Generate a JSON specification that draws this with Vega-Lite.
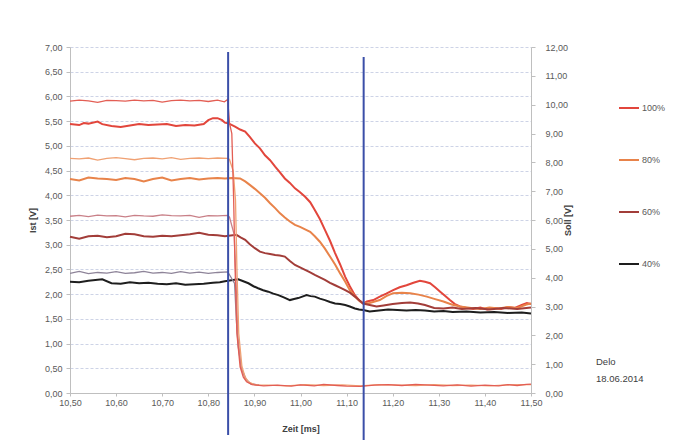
{
  "$schema": "https://vega.github.io/schema/vega-lite/v6.json",
  "width": 461,
  "height": 346,
  "autosize": {"type": "none"},
  "padding": {"left": 70, "top": 47, "right": 155, "bottom": 51},
  "background": "white",
  "config": {
    "locale": {"number": {"decimal": ",", "thousands": ".", "grouping": [3], "currency": ["", " €"]}},
    "view": {"stroke": null},
    "font": "Liberation Sans",
    "axis": {
      "labelFontSize": 9, "labelColor": "#595959", "labelFont": "Liberation Sans",
      "titleFontSize": 9, "titleColor": "#404040", "titleFontWeight": "bold", "titleFont": "Liberation Sans",
      "domainColor": "#bfbfbf", "tickColor": "#bfbfbf", "tickSize": 4
    },
    "legend": {"labelFontSize": 9, "labelColor": "#595959", "labelFont": "Liberation Sans"}
  },
  "datasets": {
    "ist": [
      {"t":10.50,"v":5.44,"s":"100%"},{"t":10.52,"v":5.42,"s":"100%"},{"t":10.53,"v":5.46,"s":"100%"},{"t":10.54,"v":5.45,"s":"100%"},{"t":10.56,"v":5.49,"s":"100%"},{"t":10.57,"v":5.44,"s":"100%"},{"t":10.59,"v":5.40,"s":"100%"},{"t":10.61,"v":5.38,"s":"100%"},{"t":10.63,"v":5.41,"s":"100%"},{"t":10.65,"v":5.44,"s":"100%"},{"t":10.67,"v":5.42,"s":"100%"},{"t":10.69,"v":5.43,"s":"100%"},{"t":10.71,"v":5.44,"s":"100%"},{"t":10.73,"v":5.40,"s":"100%"},{"t":10.75,"v":5.42,"s":"100%"},{"t":10.77,"v":5.41,"s":"100%"},{"t":10.79,"v":5.44,"s":"100%"},{"t":10.80,"v":5.52,"s":"100%"},{"t":10.81,"v":5.56,"s":"100%"},{"t":10.82,"v":5.56,"s":"100%"},{"t":10.83,"v":5.52,"s":"100%"},{"t":10.836,"v":5.47,"s":"100%"},{"t":10.845,"v":5.45,"s":"100%"},{"t":10.858,"v":5.39,"s":"100%"},{"t":10.869,"v":5.33,"s":"100%"},{"t":10.880,"v":5.29,"s":"100%"},{"t":10.890,"v":5.18,"s":"100%"},{"t":10.901,"v":5.05,"s":"100%"},{"t":10.912,"v":4.95,"s":"100%"},{"t":10.923,"v":4.81,"s":"100%"},{"t":10.934,"v":4.71,"s":"100%"},{"t":10.945,"v":4.58,"s":"100%"},{"t":10.955,"v":4.47,"s":"100%"},{"t":10.966,"v":4.34,"s":"100%"},{"t":10.977,"v":4.25,"s":"100%"},{"t":10.988,"v":4.14,"s":"100%"},{"t":10.999,"v":4.06,"s":"100%"},{"t":11.010,"v":3.97,"s":"100%"},{"t":11.021,"v":3.86,"s":"100%"},{"t":11.031,"v":3.70,"s":"100%"},{"t":11.042,"v":3.52,"s":"100%"},{"t":11.053,"v":3.30,"s":"100%"},{"t":11.064,"v":3.08,"s":"100%"},{"t":11.075,"v":2.83,"s":"100%"},{"t":11.086,"v":2.60,"s":"100%"},{"t":11.097,"v":2.35,"s":"100%"},{"t":11.107,"v":2.16,"s":"100%"},{"t":11.118,"v":1.98,"s":"100%"},{"t":11.127,"v":1.88,"s":"100%"},{"t":11.136,"v":1.81,"s":"100%"},{"t":11.144,"v":1.85,"s":"100%"},{"t":11.158,"v":1.88,"s":"100%"},{"t":11.172,"v":1.95,"s":"100%"},{"t":11.186,"v":2.01,"s":"100%"},{"t":11.201,"v":2.08,"s":"100%"},{"t":11.215,"v":2.14,"s":"100%"},{"t":11.230,"v":2.18,"s":"100%"},{"t":11.245,"v":2.23,"s":"100%"},{"t":11.259,"v":2.27,"s":"100%"},{"t":11.270,"v":2.25,"s":"100%"},{"t":11.281,"v":2.22,"s":"100%"},{"t":11.292,"v":2.14,"s":"100%"},{"t":11.303,"v":2.05,"s":"100%"},{"t":11.314,"v":1.96,"s":"100%"},{"t":11.324,"v":1.88,"s":"100%"},{"t":11.335,"v":1.80,"s":"100%"},{"t":11.346,"v":1.75,"s":"100%"},{"t":11.36,"v":1.72,"s":"100%"},{"t":11.375,"v":1.70,"s":"100%"},{"t":11.39,"v":1.73,"s":"100%"},{"t":11.405,"v":1.69,"s":"100%"},{"t":11.42,"v":1.72,"s":"100%"},{"t":11.435,"v":1.70,"s":"100%"},{"t":11.45,"v":1.74,"s":"100%"},{"t":11.465,"v":1.72,"s":"100%"},{"t":11.48,"v":1.78,"s":"100%"},{"t":11.491,"v":1.82,"s":"100%"},{"t":11.50,"v":1.80,"s":"100%"},

      {"t":10.50,"v":4.33,"s":"80%"},{"t":10.52,"v":4.30,"s":"80%"},{"t":10.54,"v":4.36,"s":"80%"},{"t":10.56,"v":4.34,"s":"80%"},{"t":10.58,"v":4.33,"s":"80%"},{"t":10.60,"v":4.31,"s":"80%"},{"t":10.62,"v":4.35,"s":"80%"},{"t":10.64,"v":4.33,"s":"80%"},{"t":10.66,"v":4.28,"s":"80%"},{"t":10.68,"v":4.33,"s":"80%"},{"t":10.70,"v":4.36,"s":"80%"},{"t":10.72,"v":4.30,"s":"80%"},{"t":10.74,"v":4.33,"s":"80%"},{"t":10.76,"v":4.35,"s":"80%"},{"t":10.78,"v":4.32,"s":"80%"},{"t":10.80,"v":4.34,"s":"80%"},{"t":10.82,"v":4.35,"s":"80%"},{"t":10.836,"v":4.34,"s":"80%"},{"t":10.850,"v":4.35,"s":"80%"},{"t":10.869,"v":4.34,"s":"80%"},{"t":10.880,"v":4.28,"s":"80%"},{"t":10.890,"v":4.21,"s":"80%"},{"t":10.901,"v":4.13,"s":"80%"},{"t":10.912,"v":4.04,"s":"80%"},{"t":10.923,"v":3.95,"s":"80%"},{"t":10.934,"v":3.84,"s":"80%"},{"t":10.945,"v":3.74,"s":"80%"},{"t":10.955,"v":3.64,"s":"80%"},{"t":10.966,"v":3.55,"s":"80%"},{"t":10.977,"v":3.47,"s":"80%"},{"t":10.988,"v":3.40,"s":"80%"},{"t":10.999,"v":3.36,"s":"80%"},{"t":11.010,"v":3.31,"s":"80%"},{"t":11.021,"v":3.26,"s":"80%"},{"t":11.031,"v":3.17,"s":"80%"},{"t":11.042,"v":3.06,"s":"80%"},{"t":11.053,"v":2.92,"s":"80%"},{"t":11.064,"v":2.76,"s":"80%"},{"t":11.075,"v":2.60,"s":"80%"},{"t":11.086,"v":2.42,"s":"80%"},{"t":11.097,"v":2.25,"s":"80%"},{"t":11.107,"v":2.08,"s":"80%"},{"t":11.118,"v":1.95,"s":"80%"},{"t":11.129,"v":1.85,"s":"80%"},{"t":11.136,"v":1.81,"s":"80%"},{"t":11.150,"v":1.82,"s":"80%"},{"t":11.172,"v":1.88,"s":"80%"},{"t":11.186,"v":1.96,"s":"80%"},{"t":11.201,"v":2.02,"s":"80%"},{"t":11.22,"v":2.03,"s":"80%"},{"t":11.238,"v":2.02,"s":"80%"},{"t":11.256,"v":1.99,"s":"80%"},{"t":11.274,"v":1.95,"s":"80%"},{"t":11.292,"v":1.90,"s":"80%"},{"t":11.31,"v":1.85,"s":"80%"},{"t":11.328,"v":1.79,"s":"80%"},{"t":11.346,"v":1.75,"s":"80%"},{"t":11.37,"v":1.72,"s":"80%"},{"t":11.39,"v":1.70,"s":"80%"},{"t":11.41,"v":1.73,"s":"80%"},{"t":11.43,"v":1.71,"s":"80%"},{"t":11.45,"v":1.74,"s":"80%"},{"t":11.47,"v":1.72,"s":"80%"},{"t":11.49,"v":1.79,"s":"80%"},{"t":11.50,"v":1.81,"s":"80%"},

      {"t":10.50,"v":3.16,"s":"60%"},{"t":10.52,"v":3.12,"s":"60%"},{"t":10.54,"v":3.17,"s":"60%"},{"t":10.56,"v":3.18,"s":"60%"},{"t":10.58,"v":3.15,"s":"60%"},{"t":10.60,"v":3.17,"s":"60%"},{"t":10.62,"v":3.22,"s":"60%"},{"t":10.64,"v":3.21,"s":"60%"},{"t":10.66,"v":3.17,"s":"60%"},{"t":10.68,"v":3.16,"s":"60%"},{"t":10.70,"v":3.18,"s":"60%"},{"t":10.72,"v":3.17,"s":"60%"},{"t":10.74,"v":3.19,"s":"60%"},{"t":10.76,"v":3.21,"s":"60%"},{"t":10.78,"v":3.24,"s":"60%"},{"t":10.80,"v":3.20,"s":"60%"},{"t":10.82,"v":3.19,"s":"60%"},{"t":10.836,"v":3.17,"s":"60%"},{"t":10.861,"v":3.20,"s":"60%"},{"t":10.870,"v":3.15,"s":"60%"},{"t":10.880,"v":3.10,"s":"60%"},{"t":10.890,"v":3.01,"s":"60%"},{"t":10.901,"v":2.93,"s":"60%"},{"t":10.912,"v":2.86,"s":"60%"},{"t":10.923,"v":2.83,"s":"60%"},{"t":10.934,"v":2.81,"s":"60%"},{"t":10.945,"v":2.79,"s":"60%"},{"t":10.955,"v":2.78,"s":"60%"},{"t":10.966,"v":2.76,"s":"60%"},{"t":10.977,"v":2.67,"s":"60%"},{"t":10.988,"v":2.59,"s":"60%"},{"t":10.999,"v":2.54,"s":"60%"},{"t":11.010,"v":2.49,"s":"60%"},{"t":11.021,"v":2.44,"s":"60%"},{"t":11.031,"v":2.39,"s":"60%"},{"t":11.042,"v":2.34,"s":"60%"},{"t":11.053,"v":2.29,"s":"60%"},{"t":11.064,"v":2.23,"s":"60%"},{"t":11.075,"v":2.18,"s":"60%"},{"t":11.086,"v":2.13,"s":"60%"},{"t":11.097,"v":2.08,"s":"60%"},{"t":11.107,"v":2.03,"s":"60%"},{"t":11.118,"v":1.95,"s":"60%"},{"t":11.128,"v":1.87,"s":"60%"},{"t":11.136,"v":1.81,"s":"60%"},{"t":11.15,"v":1.78,"s":"60%"},{"t":11.165,"v":1.75,"s":"60%"},{"t":11.18,"v":1.77,"s":"60%"},{"t":11.20,"v":1.80,"s":"60%"},{"t":11.22,"v":1.82,"s":"60%"},{"t":11.238,"v":1.83,"s":"60%"},{"t":11.255,"v":1.81,"s":"60%"},{"t":11.27,"v":1.78,"s":"60%"},{"t":11.29,"v":1.72,"s":"60%"},{"t":11.31,"v":1.71,"s":"60%"},{"t":11.33,"v":1.73,"s":"60%"},{"t":11.35,"v":1.70,"s":"60%"},{"t":11.38,"v":1.72,"s":"60%"},{"t":11.41,"v":1.69,"s":"60%"},{"t":11.44,"v":1.72,"s":"60%"},{"t":11.47,"v":1.70,"s":"60%"},{"t":11.50,"v":1.73,"s":"60%"},

      {"t":10.50,"v":2.25,"s":"40%"},{"t":10.52,"v":2.24,"s":"40%"},{"t":10.54,"v":2.27,"s":"40%"},{"t":10.57,"v":2.30,"s":"40%"},{"t":10.59,"v":2.22,"s":"40%"},{"t":10.61,"v":2.21,"s":"40%"},{"t":10.63,"v":2.24,"s":"40%"},{"t":10.65,"v":2.22,"s":"40%"},{"t":10.67,"v":2.23,"s":"40%"},{"t":10.69,"v":2.21,"s":"40%"},{"t":10.71,"v":2.20,"s":"40%"},{"t":10.73,"v":2.22,"s":"40%"},{"t":10.75,"v":2.19,"s":"40%"},{"t":10.77,"v":2.20,"s":"40%"},{"t":10.79,"v":2.21,"s":"40%"},{"t":10.81,"v":2.23,"s":"40%"},{"t":10.825,"v":2.24,"s":"40%"},{"t":10.836,"v":2.26,"s":"40%"},{"t":10.850,"v":2.28,"s":"40%"},{"t":10.865,"v":2.30,"s":"40%"},{"t":10.876,"v":2.26,"s":"40%"},{"t":10.887,"v":2.22,"s":"40%"},{"t":10.898,"v":2.16,"s":"40%"},{"t":10.908,"v":2.12,"s":"40%"},{"t":10.919,"v":2.08,"s":"40%"},{"t":10.930,"v":2.05,"s":"40%"},{"t":10.941,"v":2.01,"s":"40%"},{"t":10.952,"v":1.98,"s":"40%"},{"t":10.965,"v":1.93,"s":"40%"},{"t":10.977,"v":1.88,"s":"40%"},{"t":10.986,"v":1.90,"s":"40%"},{"t":10.995,"v":1.92,"s":"40%"},{"t":11.004,"v":1.95,"s":"40%"},{"t":11.013,"v":1.98,"s":"40%"},{"t":11.022,"v":1.96,"s":"40%"},{"t":11.031,"v":1.95,"s":"40%"},{"t":11.042,"v":1.91,"s":"40%"},{"t":11.053,"v":1.88,"s":"40%"},{"t":11.064,"v":1.84,"s":"40%"},{"t":11.075,"v":1.81,"s":"40%"},{"t":11.086,"v":1.80,"s":"40%"},{"t":11.097,"v":1.78,"s":"40%"},{"t":11.107,"v":1.75,"s":"40%"},{"t":11.118,"v":1.71,"s":"40%"},{"t":11.127,"v":1.69,"s":"40%"},{"t":11.136,"v":1.68,"s":"40%"},{"t":11.15,"v":1.65,"s":"40%"},{"t":11.17,"v":1.67,"s":"40%"},{"t":11.19,"v":1.69,"s":"40%"},{"t":11.21,"v":1.68,"s":"40%"},{"t":11.23,"v":1.67,"s":"40%"},{"t":11.25,"v":1.68,"s":"40%"},{"t":11.27,"v":1.67,"s":"40%"},{"t":11.29,"v":1.65,"s":"40%"},{"t":11.31,"v":1.66,"s":"40%"},{"t":11.33,"v":1.64,"s":"40%"},{"t":11.36,"v":1.65,"s":"40%"},{"t":11.39,"v":1.63,"s":"40%"},{"t":11.42,"v":1.64,"s":"40%"},{"t":11.45,"v":1.62,"s":"40%"},{"t":11.48,"v":1.63,"s":"40%"},{"t":11.50,"v":1.61,"s":"40%"}
    ],
    "soll": [
      {"t":10.50,"v":4.15,"s":"S40"},{"t":10.52,"v":4.22,"s":"S40"},{"t":10.54,"v":4.14,"s":"S40"},{"t":10.56,"v":4.18,"s":"S40"},{"t":10.58,"v":4.16,"s":"S40"},{"t":10.60,"v":4.21,"s":"S40"},{"t":10.62,"v":4.15,"s":"S40"},{"t":10.64,"v":4.17,"s":"S40"},{"t":10.66,"v":4.22,"s":"S40"},{"t":10.68,"v":4.16,"s":"S40"},{"t":10.70,"v":4.18,"s":"S40"},{"t":10.72,"v":4.15,"s":"S40"},{"t":10.74,"v":4.21,"s":"S40"},{"t":10.76,"v":4.16,"s":"S40"},{"t":10.78,"v":4.19,"s":"S40"},{"t":10.80,"v":4.15,"s":"S40"},{"t":10.82,"v":4.18,"s":"S40"},{"t":10.842,"v":4.20,"s":"S40"},{"t":10.846,"v":4.10,"s":"S40"},{"t":10.857,"v":3.80,"s":"S40"},{"t":10.861,"v":2.50,"s":"S40"},{"t":10.865,"v":1.60,"s":"S40"},{"t":10.872,"v":0.85,"s":"S40"},{"t":10.882,"v":0.48,"s":"S40"},{"t":10.892,"v":0.32,"s":"S40"},{"t":10.91,"v":0.27,"s":"S40"},

      {"t":10.50,"v":6.13,"s":"S60"},{"t":10.52,"v":6.16,"s":"S60"},{"t":10.54,"v":6.12,"s":"S60"},{"t":10.56,"v":6.17,"s":"S60"},{"t":10.58,"v":6.14,"s":"S60"},{"t":10.60,"v":6.15,"s":"S60"},{"t":10.62,"v":6.11,"s":"S60"},{"t":10.64,"v":6.16,"s":"S60"},{"t":10.66,"v":6.14,"s":"S60"},{"t":10.68,"v":6.13,"s":"S60"},{"t":10.70,"v":6.18,"s":"S60"},{"t":10.72,"v":6.15,"s":"S60"},{"t":10.74,"v":6.14,"s":"S60"},{"t":10.76,"v":6.16,"s":"S60"},{"t":10.78,"v":6.09,"s":"S60"},{"t":10.80,"v":6.15,"s":"S60"},{"t":10.82,"v":6.14,"s":"S60"},{"t":10.842,"v":6.16,"s":"S60"},{"t":10.846,"v":6.10,"s":"S60"},{"t":10.856,"v":5.50,"s":"S60"},{"t":10.86,"v":3.90,"s":"S60"},{"t":10.864,"v":2.00,"s":"S60"},{"t":10.871,"v":0.90,"s":"S60"},{"t":10.88,"v":0.50,"s":"S60"},{"t":10.89,"v":0.33,"s":"S60"},{"t":10.91,"v":0.27,"s":"S60"},

      {"t":10.50,"v":8.14,"s":"S80"},{"t":10.52,"v":8.12,"s":"S80"},{"t":10.54,"v":8.15,"s":"S80"},{"t":10.56,"v":8.08,"s":"S80"},{"t":10.58,"v":8.14,"s":"S80"},{"t":10.60,"v":8.16,"s":"S80"},{"t":10.62,"v":8.13,"s":"S80"},{"t":10.64,"v":8.09,"s":"S80"},{"t":10.66,"v":8.14,"s":"S80"},{"t":10.68,"v":8.15,"s":"S80"},{"t":10.70,"v":8.12,"s":"S80"},{"t":10.72,"v":8.16,"s":"S80"},{"t":10.74,"v":8.10,"s":"S80"},{"t":10.76,"v":8.14,"s":"S80"},{"t":10.78,"v":8.15,"s":"S80"},{"t":10.80,"v":8.13,"s":"S80"},{"t":10.82,"v":8.15,"s":"S80"},{"t":10.842,"v":8.14,"s":"S80"},{"t":10.846,"v":8.10,"s":"S80"},{"t":10.854,"v":7.70,"s":"S80"},{"t":10.859,"v":6.69,"s":"S80"},{"t":10.862,"v":4.37,"s":"S80"},{"t":10.866,"v":2.07,"s":"S80"},{"t":10.873,"v":0.91,"s":"S80"},{"t":10.88,"v":0.55,"s":"S80"},{"t":10.887,"v":0.39,"s":"S80"},{"t":10.90,"v":0.29,"s":"S80"},{"t":10.91,"v":0.27,"s":"S80"},{"t":10.93,"v":0.27,"s":"S80"},{"t":10.97,"v":0.25,"s":"S80"},{"t":11.01,"v":0.29,"s":"S80"},{"t":11.05,"v":0.26,"s":"S80"},{"t":11.09,"v":0.28,"s":"S80"},{"t":11.13,"v":0.25,"s":"S80"},{"t":11.17,"v":0.29,"s":"S80"},{"t":11.21,"v":0.27,"s":"S80"},{"t":11.25,"v":0.26,"s":"S80"},{"t":11.29,"v":0.29,"s":"S80"},{"t":11.33,"v":0.26,"s":"S80"},{"t":11.37,"v":0.27,"s":"S80"},{"t":11.41,"v":0.25,"s":"S80"},{"t":11.45,"v":0.28,"s":"S80"},{"t":11.50,"v":0.29,"s":"S80"},

      {"t":10.50,"v":10.12,"s":"S100"},{"t":10.52,"v":10.16,"s":"S100"},{"t":10.54,"v":10.13,"s":"S100"},{"t":10.56,"v":10.08,"s":"S100"},{"t":10.58,"v":10.15,"s":"S100"},{"t":10.60,"v":10.14,"s":"S100"},{"t":10.62,"v":10.12,"s":"S100"},{"t":10.64,"v":10.16,"s":"S100"},{"t":10.66,"v":10.13,"s":"S100"},{"t":10.68,"v":10.15,"s":"S100"},{"t":10.70,"v":10.09,"s":"S100"},{"t":10.72,"v":10.14,"s":"S100"},{"t":10.74,"v":10.16,"s":"S100"},{"t":10.76,"v":10.13,"s":"S100"},{"t":10.78,"v":10.15,"s":"S100"},{"t":10.80,"v":10.11,"s":"S100"},{"t":10.82,"v":10.16,"s":"S100"},{"t":10.835,"v":10.10,"s":"S100"},{"t":10.842,"v":10.18,"s":"S100"},{"t":10.846,"v":9.36,"s":"S100"},{"t":10.851,"v":9.00,"s":"S100"},{"t":10.855,"v":6.69,"s":"S100"},{"t":10.858,"v":4.37,"s":"S100"},{"t":10.862,"v":2.07,"s":"S100"},{"t":10.869,"v":0.91,"s":"S100"},{"t":10.876,"v":0.55,"s":"S100"},{"t":10.883,"v":0.39,"s":"S100"},{"t":10.895,"v":0.29,"s":"S100"},{"t":10.905,"v":0.27,"s":"S100"},{"t":10.92,"v":0.25,"s":"S100"},{"t":10.95,"v":0.27,"s":"S100"},{"t":10.98,"v":0.24,"s":"S100"},{"t":11.00,"v":0.28,"s":"S100"},{"t":11.03,"v":0.25,"s":"S100"},{"t":11.05,"v":0.30,"s":"S100"},{"t":11.08,"v":0.26,"s":"S100"},{"t":11.10,"v":0.24,"s":"S100"},{"t":11.13,"v":0.23,"s":"S100"},{"t":11.16,"v":0.27,"s":"S100"},{"t":11.19,"v":0.29,"s":"S100"},{"t":11.22,"v":0.26,"s":"S100"},{"t":11.25,"v":0.30,"s":"S100"},{"t":11.28,"v":0.27,"s":"S100"},{"t":11.31,"v":0.25,"s":"S100"},{"t":11.34,"v":0.28,"s":"S100"},{"t":11.37,"v":0.24,"s":"S100"},{"t":11.40,"v":0.27,"s":"S100"},{"t":11.43,"v":0.25,"s":"S100"},{"t":11.45,"v":0.29,"s":"S100"},{"t":11.47,"v":0.26,"s":"S100"},{"t":11.49,"v":0.30,"s":"S100"},{"t":11.50,"v":0.31,"s":"S100"}
    ],
    "marks": [
      {"t":10.843,"top":6.90,"bottom":-0.85},
      {"t":11.137,"top":6.80,"bottom":-0.95}
    ],
    "note": [
      {"t":11.641,"y":0.73,"label":"Delo\n18.06.2014"}
    ]
  },
  "layer": [
    {
      "data": {"name": "ist"},
      "mark": {"type": "line", "strokeWidth": 2, "interpolate": "linear"},
      "encoding": {
        "x": {"field": "t", "type": "quantitative", "scale": {"domain": [10.5, 11.5], "nice": false, "zero": false},
              "axis": {"title": "Zeit [ms]", "values": [10.5,10.6,10.7,10.8,10.9,11.0,11.1,11.2,11.3,11.4,11.5], "format": ".2f", "grid": false, "tickSize": 3, "labelPadding": 2, "titlePadding": 17, "labelFlush": false}},
        "y": {"field": "v", "type": "quantitative", "scale": {"domain": [0, 7], "nice": false},
              "axis": {"orient": "left", "title": "Ist [V]", "values": [0,0.5,1,1.5,2,2.5,3,3.5,4,4.5,5,5.5,6,6.5,7], "format": ".2f", "grid": true, "gridColor": "#cdd3e6", "gridDash": [3, 2], "labelPadding": 4, "titlePadding": 7}},
        "color": {"field": "s", "type": "nominal",
                  "scale": {"domain": ["100%","80%","60%","40%","S100","S80","S60","S40"], "range": ["#E2463C","#E8834A","#A23D39","#1E1E1E","#E35E54","#F0A173","#C98088","#8E8499"]},
                  "legend": {"values": ["100%","80%","60%","40%"], "title": null, "orient": "none", "legendX": 548, "legendY": 50, "symbolType": "stroke", "symbolSize": 400, "symbolStrokeWidth": 2, "rowPadding": 36, "labelOffset": 2}},
        "order": {"field": "t", "type": "quantitative"}
      }
    },
    {
      "data": {"name": "soll"},
      "mark": {"type": "line", "strokeWidth": 1.3, "interpolate": "linear"},
      "encoding": {
        "x": {"field": "t", "type": "quantitative", "scale": {"domain": [10.5, 11.5], "nice": false, "zero": false}},
        "y": {"field": "v", "type": "quantitative", "scale": {"domain": [0, 12], "nice": false},
              "axis": {"orient": "right", "title": "Soll [V]", "titleAngle": 270, "values": [0,1,2,3,4,5,6,7,8,9,10,11,12], "format": ".2f", "grid": false, "labelPadding": 10, "titlePadding": 5}},
        "color": {"field": "s", "type": "nominal"},
        "order": {"field": "t", "type": "quantitative"}
      }
    },
    {
      "layer": [
        {
          "data": {"name": "marks"},
          "mark": {"type": "rule", "color": "#3B4FA8", "strokeWidth": 2},
          "encoding": {
            "x": {"field": "t", "type": "quantitative", "scale": {"domain": [10.5, 11.5], "nice": false, "zero": false}},
            "y": {"field": "top", "type": "quantitative", "scale": {"domain": [0, 7], "nice": false}, "axis": null},
            "y2": {"field": "bottom"}
          }
        },
        {
          "data": {"name": "note"},
          "mark": {"type": "text", "align": "left", "baseline": "top", "fontSize": 9.5, "lineBreak": "\n", "lineHeight": 17, "color": "#404040", "font": "Liberation Sans"},
          "encoding": {
            "x": {"field": "t", "type": "quantitative"},
            "y": {"field": "y", "type": "quantitative"},
            "text": {"field": "label"}
          }
        }
      ]
    }
  ],
  "resolve": {"scale": {"y": "independent"}}
}
